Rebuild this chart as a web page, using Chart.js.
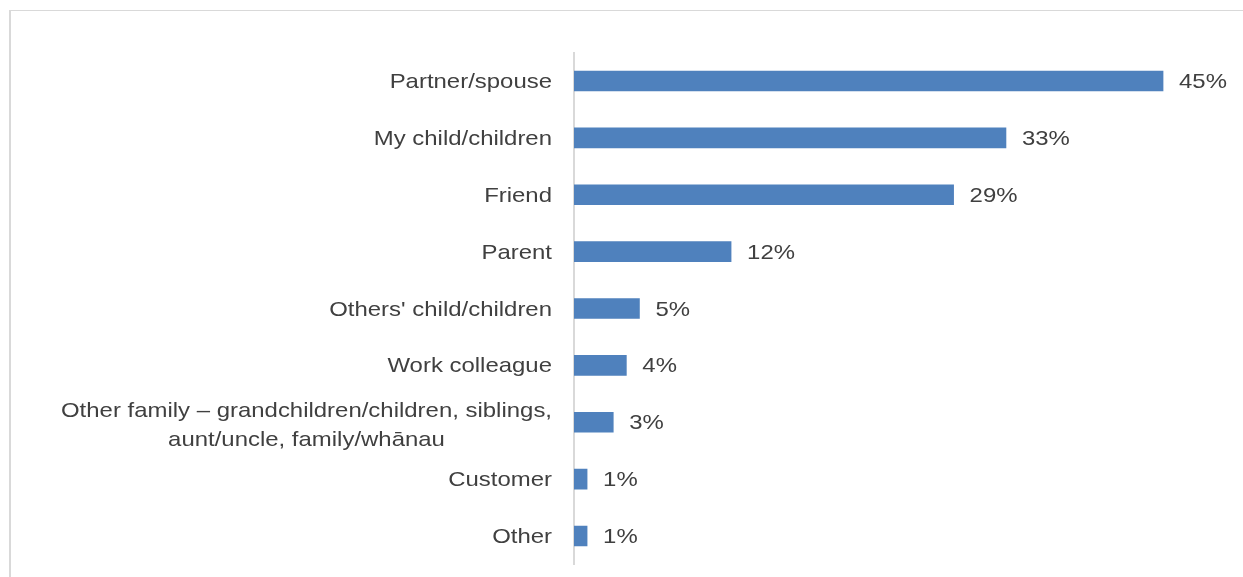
<!DOCTYPE html>
<html>
<head>
<meta charset="utf-8">
<script src="https://cdn.jsdelivr.net/npm/chart.js@4/dist/chart.umd.min.js"></script>
<style>
  html, body { margin: 0; padding: 0; background: #fff; overflow: hidden; }
  #frame {
    position: absolute; left: 9px; top: 10px;
    width: 1300px; height: 700px;
    border-top: 1px solid #d9d9d9; border-left: 2px solid #d9d9d9;
  }
  #chart { position: absolute; left: 0; top: 0; }
</style>
</head>
<body>
<div id="frame"></div>
<canvas id="chart" width="1243" height="577"></canvas>
<script>
'use strict';

// Who the respondent talked to
const categories = [
  'Partner/spouse',
  'My child/children',
  'Friend',
  'Parent',
  "Others' child/children",
  'Work colleague',
  ['Other family \u2013 grandchildren/children, siblings,', 'aunt/uncle, family/wh\u0101nau'],
  'Customer',
  'Other'
];
const shares = [45, 33, 29, 12, 5, 4, 3, 1, 1];
const axisMax = 50;

const textColor = '#404040';
const fontSize = 21;
const stretch = 1.14;
const capMid = 7;

function stretchedText(ctx, text, x, y, align) {
  ctx.save();
  ctx.translate(x, y);
  ctx.scale(stretch, 1);
  ctx.textAlign = align;
  ctx.fillText(text, 0, 0);
  ctx.restore();
}

// Category names on the left, value labels after each bar
const barLabels = {
  id: 'barLabels',
  afterDatasetsDraw(chart) {
    const ctx = chart.ctx;
    const yScale = chart.scales.y;
    const xScale = chart.scales.x;
    const left = chart.chartArea.left;
    ctx.save();
    ctx.font = fontSize + 'px "Liberation Sans", Arial, sans-serif';
    ctx.fillStyle = textColor;
    ctx.textBaseline = 'alphabetic';

    categories.forEach((cat, i) => {
      const y = yScale.getPixelForValue(i);
      const right = left - 22;
      if (Array.isArray(cat)) {
        const widest = Math.max(...cat.map(l => ctx.measureText(l).width)) * stretch;
        const cx = right - widest / 2;
        const lh = 29;
        cat.forEach((line, k) => {
          const ly = y + 2 + (k - (cat.length - 1) / 2) * lh;
          stretchedText(ctx, line, cx, ly + capMid, 'center');
        });
      } else {
        stretchedText(ctx, cat, right, y + capMid, 'right');
      }

      const x = xScale.getPixelForValue(shares[i]) + 16;
      stretchedText(ctx, shares[i] + '%', x, y + capMid, 'left');
    });
    ctx.restore();
  }
};

new Chart(document.getElementById('chart'), {
  type: 'bar',
  data: {
    labels: categories,
    datasets: [{
      data: shares,
      backgroundColor: '#4f81bd',
      borderWidth: 0,
      barThickness: 20
    }]
  },
  options: {
    indexAxis: 'y',
    responsive: false,
    animation: false,
    layout: {
      padding: { left: 574, right: 14.5, top: 52.6, bottom: 12.6 }
    },
    plugins: {
      legend: { display: false },
      tooltip: { enabled: false }
    },
    scales: {
      x: {
        display: false,
        min: 0,
        max: axisMax
      },
      y: {
        display: true,
        ticks: { display: false },
        grid: { display: false, drawTicks: false },
        border: { display: true, color: '#d9d9d9', width: 2 }
      }
    }
  },
  plugins: [barLabels]
});
</script>
</body>
</html>
